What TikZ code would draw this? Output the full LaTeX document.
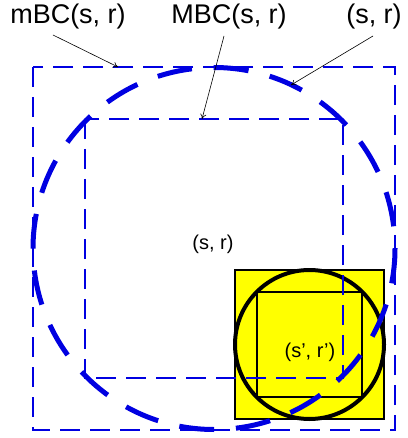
\documentclass[tikz,border=0pt]{standalone}
\usepackage{fontspec}
\setmainfont{Liberation Sans}
\usetikzlibrary{arrows.meta}
\definecolor{bblue}{RGB}{0,0,225}
\definecolor{yel}{RGB}{255,255,0}
\tikzset{
  rectdash/.style={draw=bblue, line width=2.7pt, dash pattern=on 20pt off 10pt},
  circdash/.style={draw=bblue, line width=5pt, dash pattern=on 35pt off 21.85pt},
  lbl/.style={font=\fontsize{27}{29}\selectfont, inner sep=0pt},
  inlbl/.style={font=\fontsize{20}{22}\selectfont, inner sep=0pt},
  pointer/.style={draw=black, line width=0.6pt, -{To[length=5pt,width=6pt]}},
}
\begin{document}
\begin{tikzpicture}[x=1pt,y=-1pt]
\useasboundingbox (0,0) rectangle (407,438);
% small yellow configuration
\filldraw[fill=yel, draw=black, line width=2pt] (235,270) rectangle (384,419);
\draw[black, line width=4pt] (309.5,344.5) circle (74.5);
\draw[black, line width=2pt] (257,292) rectangle (362,397);
\node[inlbl] (spr) at (310,352) {(s’, r’)};
% large blue configuration
\draw[rectdash] (33,67) rectangle (395,430);
\draw[rectdash] (85,119) rectangle (343,378);
\draw[circdash] (214,248.5) circle (181);
\node[inlbl] (sr) at (213,244) {(s, r)};
% labels
\node[lbl] (lm) at (68,17) {mBC(s, r)};
\node[lbl] (lM) at (229,17) {MBC(s, r)};
\node[lbl] (lc) at (374,17) {(s, r)};
\coordinate (tm) at (118,67);
\coordinate (tM) at (202,119);
\coordinate (tc) at (291,85);
\draw[pointer] (53,35) -- (tm);
\draw[pointer] (224,36) -- (tM);
\draw[pointer] (373,36) -- (tc);
\end{tikzpicture}
\end{document}
